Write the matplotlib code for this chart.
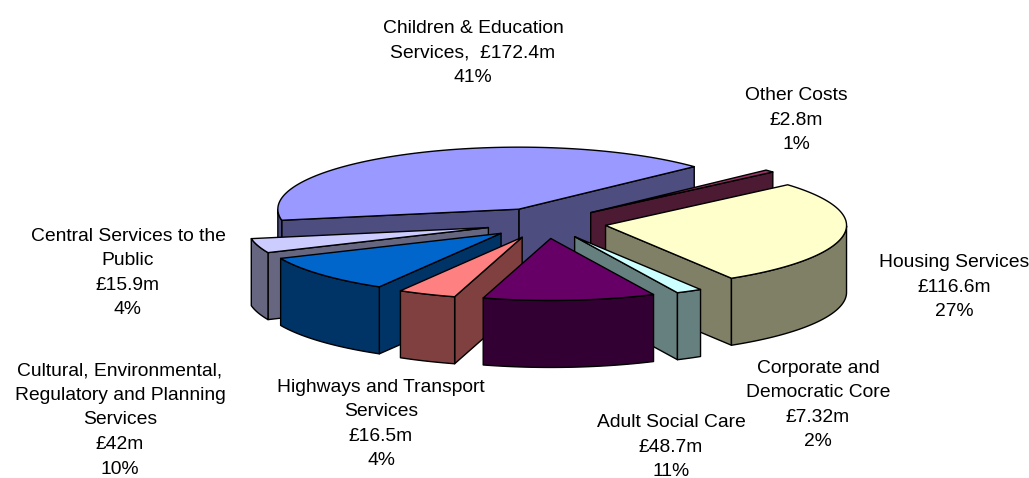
import matplotlib
matplotlib.use("Agg")
import matplotlib.pyplot as plt
from matplotlib.colors import to_rgb
from matplotlib.patches import Polygon
import numpy as np

plt.rcParams["font.family"] = ["Liberation Sans", "DejaVu Sans"]

# ── Budget data, clockwise from the largest slice ─────────────────────────────
names = ["Children & Education\nServices,  £172.4m", "Other Costs\n£2.8m", "Housing Services\n£116.6m",
         "Corporate and\nDemocratic Core\n£7.32m", "Adult Social Care\n£48.7m",
         "Highways and Transport\nServices\n£16.5m",
         "Cultural, Environmental,\nRegulatory and Planning\nServices\n£42m",
         "Central Services to the\nPublic\n£15.9m"]
values = [172.4, 2.8, 116.6, 7.32, 48.7, 16.5, 42, 15.9]
percents = ["41%", "1%", "27%", "2%", "11%", "4%", "10%", "4%"]
colors = ["#9999ff", "#993366", "#ffffcc", "#ccffff", "#660066", "#ff8080", "#0066cc", "#ccccff"]

# label centres in pixels
label_x = [473, 796, 954, 818, 671, 381, 120, 128]
label_y = [53, 120, 287, 405, 447, 424, 420, 273]

# ── Pie geometry (pixels) ─────────────────────────────────────────────────────
cx, cy = 546, 223
rx, ry = 241, 62
depth = 67
explode = 0.25
start = 43.3  # math angle where the Children slice begins (it runs counter-clockwise)


def point(theta, ox, oy):
    t = np.radians(theta)
    return ox + rx * np.cos(t), oy - ry * np.sin(t)


def wall(ax, p, q, side):
    pts = [p, q, (q[0], q[1] + depth), (p[0], p[1] + depth)]
    ax.add_patch(Polygon(pts, closed=True, fc=side, ec="black", lw=1.0, joinstyle="round"))


fig = plt.figure(figsize=(10.29, 4.78), dpi=100)
ax = fig.add_axes([0, 0, 1, 1])
ax.set_xlim(0, 1029)
ax.set_ylim(478, 0)
ax.axis("off")

# clockwise order of slices: first one spans start..start+sweep, the others wrap below start
sweeps = 360 * np.array(values) / sum(values)
hi = start + sweeps[0] - np.cumsum(np.r_[0, sweeps[:-1]])
lo = hi - sweeps
mids = (hi + lo) / 2

# paint back to front
order = sorted(range(len(values)), key=lambda i: -np.sin(np.radians(mids[i])))
for i in order:
    side = tuple(c * 0.5 for c in to_rgb(colors[i]))
    m = np.radians(mids[i])
    ox = cx + explode * rx * np.cos(m)
    oy = cy - explode * ry * np.sin(m)
    arc = np.linspace(lo[i], hi[i], max(int(sweeps[i] * 2), 4))

    # radial walls that face the viewer
    if np.sin(np.radians(lo[i] - 90)) < 0:
        wall(ax, (ox, oy), point(lo[i], ox, oy), side)
    if np.sin(np.radians(hi[i] + 90)) < 0:
        wall(ax, (ox, oy), point(hi[i], ox, oy), side)

    # rim, only the part on the near side
    near = arc[np.sin(np.radians(arc)) <= 0]
    if len(near) > 1:
        top = [point(a, ox, oy) for a in near]
        bottom = [(x, y + depth) for x, y in top][::-1]
        ax.add_patch(Polygon(top + bottom, closed=True, fc=side, ec="black", lw=1.0, joinstyle="round"))

    face = [(ox, oy)] + [point(a, ox, oy) for a in arc]
    ax.add_patch(Polygon(face, closed=True, fc=colors[i], ec="black", lw=1.0, joinstyle="round"))

# ── Slice labels ──────────────────────────────────────────────────────────────
for name, pct, x, y in zip(names, percents, label_x, label_y):
    ax.text(x, y, name + "\n" + pct, ha="center", va="center", fontsize=13.9,
            linespacing=1.58, color="black")

plt.savefig("out.png", dpi=100)
plt.close()
